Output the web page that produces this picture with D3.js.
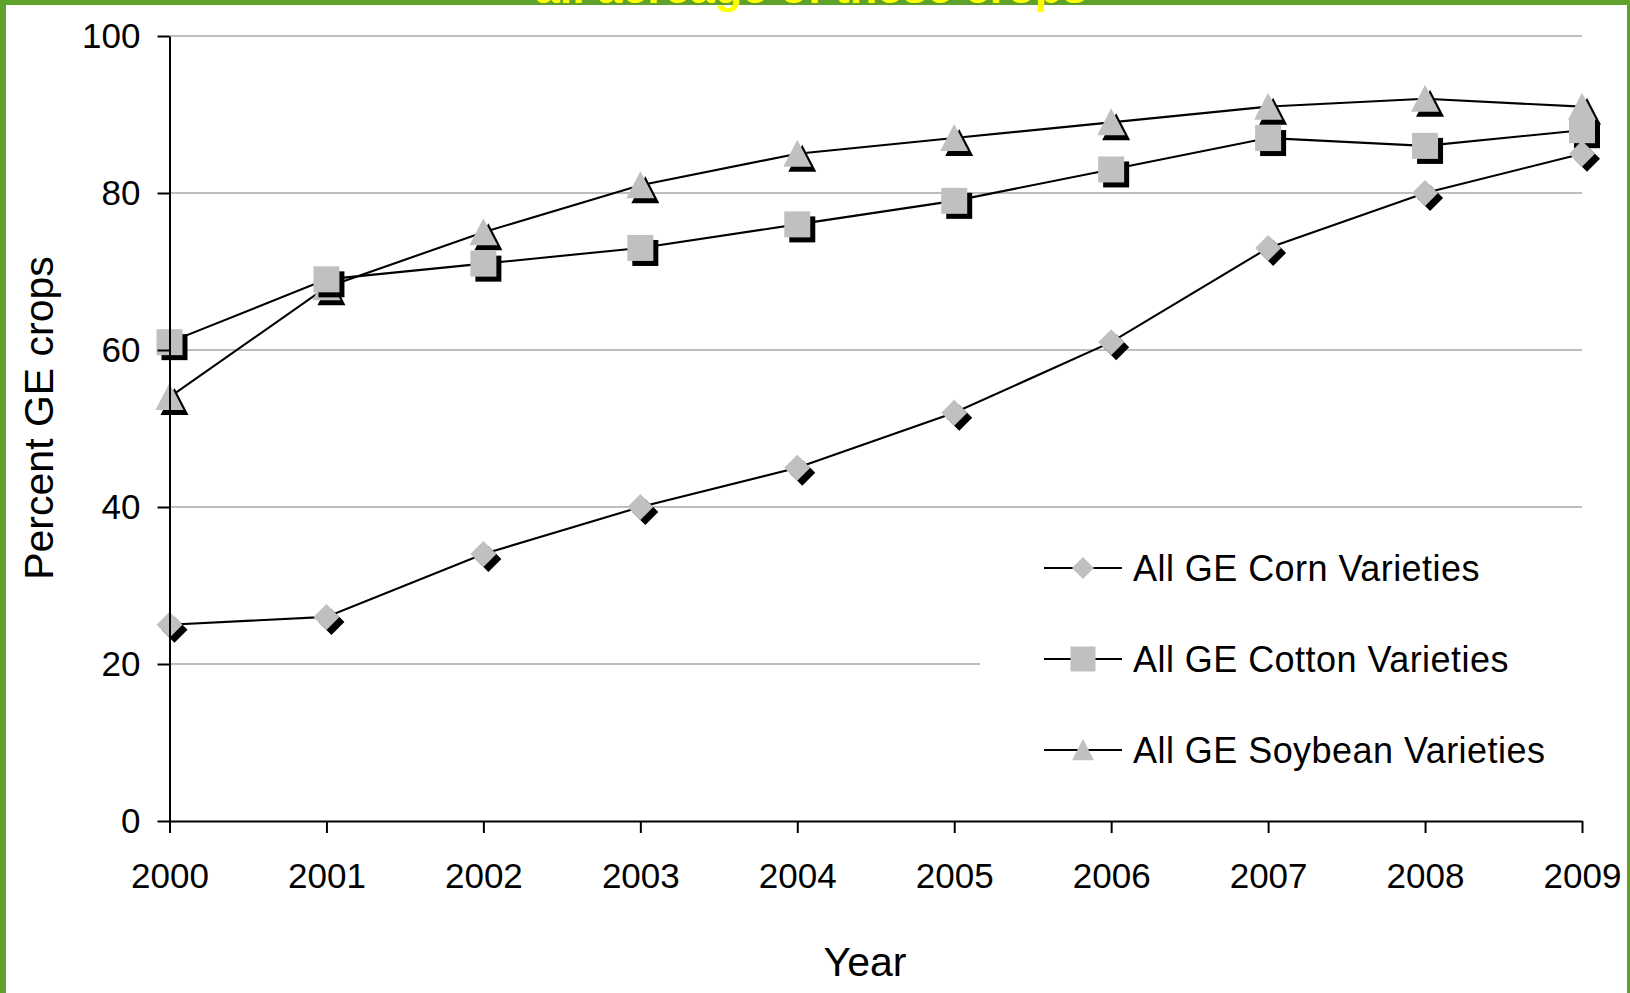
<!DOCTYPE html>
<html>
<head>
<meta charset="utf-8">
<script src="https://cdn.jsdelivr.net/npm/d3@7"></script>
<style>
  body { margin: 0; background: #fff; }
  text { font-family: Arial, "Liberation Sans", sans-serif; }
</style>
</head>
<body>
<svg id="chart"></svg>
<script>
  // values (percent of acreage planted with GE varieties)
  const years = [2000, 2001, 2002, 2003, 2004, 2005, 2006, 2007, 2008, 2009];
  const corn = [25, 26, 34, 40, 45, 52, 61, 73, 80, 85];
  const cotton = [61, 69, 71, 73, 76, 79, 83, 87, 86, 88];
  const soybean = [54, 68, 75, 81, 85, 87, 89, 91, 92, 91];
  const seriesNames = ["All GE Corn Varieties", "All GE Cotton Varieties", "All GE Soybean Varieties"];
  const yTicks = [0, 20, 40, 60, 80, 100];

  const W = 1630, H = 993;
  const svg = d3.select("#chart").attr("width", W).attr("height", H);

  const x = d3.scaleLinear().domain([2000, 2009]).range([169.5, 1582]);
  const y = d3.scaleLinear().domain([0, 100]).range([821, 36]);

  // marker shapes
  const shapes = {
    diamond: (s) => `M0,${-s}L${s},0L0,${s}L${-s},0Z`,
    square: (s) => `M${-s},${-s}H${s}V${s}H${-s}Z`,
    triangle: (s) => `M0,${-s}L${s},${s * 0.93}L${-s},${s * 0.93}Z`,
  };

  const series = [
    { name: seriesNames[0], values: corn, shape: "diamond", size: 13, legendSize: 11 },
    { name: seriesNames[1], values: cotton, shape: "square", size: 13, legendSize: 12.5 },
    { name: seriesNames[2], values: soybean, shape: "triangle", size: 14, legendSize: 11 },
  ];

  // gridlines
  svg.append("g")
    .selectAll("line")
    .data(yTicks.filter((d) => d > 0))
    .join("line")
    .attr("x1", x(2000))
    .attr("x2", x(2009))
    .attr("y1", (d) => y(d))
    .attr("y2", (d) => y(d))
    .attr("stroke", "#a8a8a8")
    .attr("stroke-width", 1.3);

  // series lines
  const line = d3.line().x((d, i) => x(years[i])).y((d) => y(d));
  svg.append("g")
    .selectAll("path")
    .data(series)
    .join("path")
    .attr("d", (d) => line(d.values))
    .attr("fill", "none")
    .attr("stroke", "#000")
    .attr("stroke-width", 2.1);

  // markers with drop shadow, soybean first so cotton and corn sit on top
  const markerOrder = [series[2], series[1], series[0]];
  markerOrder.forEach((s) => {
    const g = svg.append("g");
    g.selectAll("path.shadow")
      .data(s.values)
      .join("path")
      .attr("class", "shadow")
      .attr("transform", (d, i) => `translate(${x(years[i]) + 5},${y(d) + 5})`)
      .attr("d", shapes[s.shape](s.size))
      .attr("fill", "#000");
    g.selectAll("path.mark")
      .data(s.values)
      .join("path")
      .attr("class", "mark")
      .attr("transform", (d, i) => `translate(${x(years[i])},${y(d)})`)
      .attr("d", shapes[s.shape](s.size))
      .attr("fill", "#c0c0c0");
  });

  // axes
  const yAxis = svg.append("g")
    .attr("transform", `translate(${x(2000)},0)`)
    .call(d3.axisLeft(y).tickValues(yTicks).tickSize(12).tickSizeOuter(0).tickPadding(17));
  const xAxis = svg.append("g")
    .attr("transform", `translate(0,${y(0)})`)
    .call(d3.axisBottom(x).tickValues(years).tickFormat(d3.format("d")).tickSize(12).tickSizeOuter(0).tickPadding(30));

  [yAxis, xAxis].forEach((a) => {
    a.selectAll("path, line").attr("stroke", "#000").attr("stroke-width", 2);
    a.selectAll("text")
      .attr("fill", "#000")
      .style("font-size", "35px")
      .style("font-family", "Arial, 'Liberation Sans', sans-serif");
  });

  // legend
  const legend = svg.append("g");
  legend.append("rect")
    .attr("x", 980)
    .attr("y", 522)
    .attr("width", 605)
    .attr("height", 275)
    .attr("fill", "#fff");

  const rows = legend.selectAll("g.row")
    .data(series)
    .join("g")
    .attr("class", "row")
    .attr("transform", (d, i) => `translate(0,${568 + i * 91})`);
  rows.append("line")
    .attr("x1", 1044)
    .attr("x2", 1122)
    .attr("stroke", "#000")
    .attr("stroke-width", 2.1);
  rows.append("path")
    .attr("transform", "translate(1083,0)")
    .attr("d", (d) => shapes[d.shape](d.legendSize))
    .attr("fill", "#c0c0c0");
  rows.append("text")
    .attr("x", 1133)
    .attr("y", 13)
    .style("font-size", "36px")
    .style("letter-spacing", "0.45px")
    .attr("fill", "#000")
    .text((d) => d.name);

  // axis titles
  svg.append("text")
    .attr("transform", "translate(53,418) rotate(-90)")
    .attr("text-anchor", "middle")
    .style("font-size", "41px")
    .text("Percent GE crops");
  svg.append("text")
    .attr("x", 865)
    .attr("y", 976)
    .attr("text-anchor", "middle")
    .style("font-size", "41px")
    .text("Year");

  // frame of the slide and the clipped title above
  const green = "#5fa22b";
  svg.append("rect").attr("x", 0).attr("y", 0).attr("width", W).attr("height", 5).attr("fill", green);
  svg.append("rect").attr("x", 0).attr("y", 0).attr("width", 6).attr("height", H).attr("fill", green);
  svg.append("rect").attr("x", 1627).attr("y", 0).attr("width", 3).attr("height", H).attr("fill", green);
  svg.append("text")
    .attr("x", 811)
    .attr("y", 3)
    .attr("text-anchor", "middle")
    .style("font-size", "45px")
    .style("font-weight", "bold")
    .attr("fill", "#ffff00")
    .text("all acreage of these crops");
</script>
</body>
</html>
